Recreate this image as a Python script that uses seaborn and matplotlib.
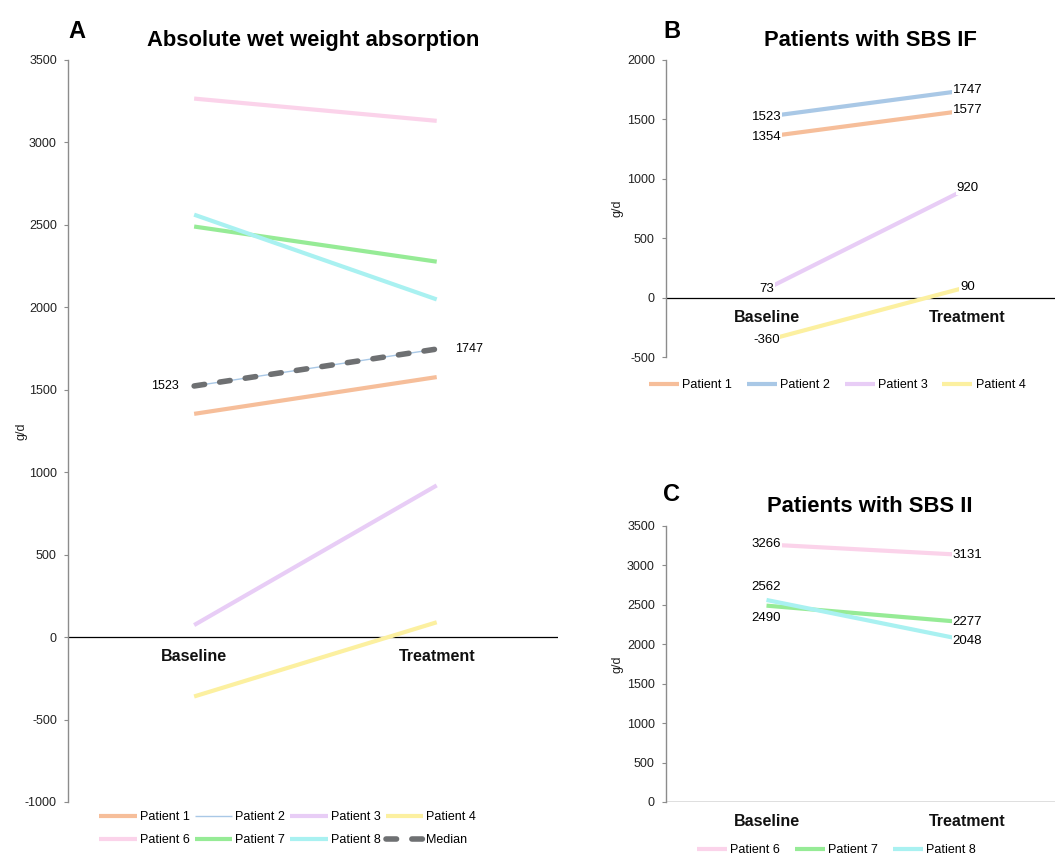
import numpy as np
import pandas as pd
import matplotlib
matplotlib.use("Agg")
import matplotlib.pyplot as plt
import seaborn as sns

sns.set_theme(style="white")
plt.rcParams['font.family'] = ['Liberation Sans', 'DejaVu Sans']
plt.rcParams['axes.unicode_minus'] = False
plt.rcParams['text.color'] = 'black'
plt.rcParams['axes.labelcolor'] = '#222222'

timepoints = ["Baseline", "Treatment"]

patients_if = ["Patient 1", "Patient 2", "Patient 3", "Patient 4"]
baseline_if = [1354, 1523, 73, -360]
treatment_if = [1577, 1747, 920, 90]

patients_ii = ["Patient 6", "Patient 7", "Patient 8"]
baseline_ii = [3266, 2490, 2562]
treatment_ii = [3131, 2277, 2048]

median_values = [1523, 1747]

colors = {
    "Patient 1": "#F6BE9A",
    "Patient 2": "#A9C8E6",
    "Patient 3": "#E8CDF6",
    "Patient 4": "#FCF0A0",
    "Patient 6": "#FBD3EA",
    "Patient 7": "#96EB96",
    "Patient 8": "#A9F1F1",
    "Median": "#6E7072",
}


def long_frame(names, base, treat):
    rows = []
    for n, b, t in zip(names, base, treat):
        rows.append({"patient": n, "time": timepoints[0], "value": b})
        rows.append({"patient": n, "time": timepoints[1], "value": t})
    return pd.DataFrame(rows)


df_if = long_frame(patients_if, baseline_if, treatment_if)
df_ii = long_frame(patients_ii, baseline_ii, treatment_ii)
df_med = pd.DataFrame({"patient": "Median", "time": timepoints, "value": median_values})
df_all = pd.concat([df_if, df_ii], ignore_index=True)

fig = plt.figure(figsize=(10.55, 8.57), dpi=100)
W, H = 1055, 857


def axes_px(left, top, right, bottom):
    return fig.add_axes([left / W, 1 - bottom / H, (right - left) / W, (bottom - top) / H])


axA = axes_px(68, 60, 558, 802)
axB = axes_px(666, 60, 1068, 357)
axC = axes_px(666, 526, 1068, 802)


def style_axes(ax, ylim, step, xlim, label_x):
    ax.set_xlim(*xlim)
    ax.set_ylim(*ylim)
    ax.set_yticks(np.arange(ylim[0], ylim[1] + 1, step))
    ax.set_xticks([])
    for s in ["top", "right", "bottom"]:
        ax.spines[s].set_visible(False)
    ax.spines["left"].set_color("#8C8C8C")
    ax.spines["left"].set_linewidth(1.0)
    ax.tick_params(axis="y", which="both", left=True, length=3, width=0.8,
                   color="#8C8C8C", labelsize=9, pad=5, labelcolor="#222222")
    ax.axhline(0, color="black", lw=0.9, zorder=1)
    ax.set_xlabel("")
    ax.set_ylabel("g/d", fontsize=9)
    ax.yaxis.set_label_coords(label_x, 0.5)
    ax.set_facecolor("none")


def category_labels(ax, offset):
    for i, t in enumerate(timepoints):
        ax.annotate(t, xy=(i, 0), xytext=(0, offset), textcoords="offset points",
                    ha="center", va="center", fontsize=11.5, fontweight="bold",
                    color="#111111")


def draw_lines(ax, df, order, widths):
    for name in order:
        sub = df[df["patient"] == name]
        sns.lineplot(data=sub, x="time", y="value", ax=ax, color=colors[name],
                     lw=widths.get(name, 3.0), label=name, sort=False,
                     solid_capstyle="butt", zorder=2)


label_box = dict(boxstyle="square,pad=0.05", fc="white", ec="none")


def value_label(ax, x, y, dy=0):
    ax.annotate(f"{y}", xy=(x, y), xytext=(0, dy), textcoords="offset points",
                ha="center", va="center", fontsize=9.5, zorder=4, bbox=label_box)


# Panel A: all patients with the median
order_A = ["Patient 1", "Patient 2", "Patient 3", "Patient 4",
           "Patient 6", "Patient 7", "Patient 8"]
draw_lines(axA, df_all, order_A, {"Patient 2": 1.0})
sns.lineplot(data=df_med, x="time", y="value", ax=axA, color=colors["Median"],
             lw=4.0, label="Median", sort=False, zorder=3,
             linestyle=(0, (1.9, 2.75)), dash_capstyle="round")
style_axes(axA, (-1000, 3500), 500, (-0.52, 1.5), (27 - 68) / 490)
category_labels(axA, -14)
axA.annotate(f"{median_values[0]}", xy=(0, median_values[0]), xytext=(-11, 0),
             textcoords="offset points", ha="right", va="center", fontsize=9)
axA.annotate(f"{median_values[1]}", xy=(1, median_values[1]), xytext=(13, 0),
             textcoords="offset points", ha="left", va="center", fontsize=9)
axA.set_title("Absolute wet weight absorption", fontsize=15.8, fontweight="bold", pad=10)
h, l = axA.get_legend_handles_labels()
idx = [0, 4, 1, 5, 2, 6, 3, 7]
axA.legend([h[i] for i in idx], [l[i] for i in idx], loc="upper left",
           bbox_to_anchor=(88 / W, 1 - 800 / H), bbox_transform=fig.transFigure,
           ncol=4, frameon=False, fontsize=9, handlelength=3.0, handletextpad=0.25,
           columnspacing=0.4, labelspacing=0.85)

# Panel B: SBS IF
draw_lines(axB, df_if, patients_if, {})
style_axes(axB, (-500, 2000), 500, (-0.5, 1.5), (624 - 666) / 402)
category_labels(axB, -14)
for b, t in zip(baseline_if, treatment_if):
    value_label(axB, 0, b)
    value_label(axB, 1, t)
axB.set_title("Patients with SBS IF", fontsize=15.8, fontweight="bold", pad=10)
axB.legend(loc="upper center", bbox_to_anchor=(837 / W, 1 - 368 / H),
           bbox_transform=fig.transFigure, ncol=4, frameon=False, fontsize=9,
           handlelength=2.4, handletextpad=0.25, columnspacing=1.2)

# Panel C: SBS II
draw_lines(axC, df_ii, patients_ii, {})
style_axes(axC, (0, 3500), 500, (-0.5, 1.5), (624 - 666) / 402)
category_labels(axC, -14)
offsets_base = {"Patient 6": 0, "Patient 7": -9, "Patient 8": 9}
for n, b, t in zip(patients_ii, baseline_ii, treatment_ii):
    value_label(axC, 0, b, offsets_base[n])
    value_label(axC, 1, t)
axC.set_title("Patients with SBS II", fontsize=15.8, fontweight="bold", pad=10)
axC.legend(loc="upper center", bbox_to_anchor=(836 / W, 1 - 833 / H),
           bbox_transform=fig.transFigure, ncol=3, frameon=False, fontsize=9,
           handlelength=2.4, handletextpad=0.25, columnspacing=1.2)

# Titles of B and C sit centred over the visible part of the panel
for ax in (axB, axC):
    ax.title.set_x((870 - 666) / 402)

# Panel letters
fig.text(77 / W, 1 - 32 / H, "A", fontsize=17, fontweight="bold", ha="center", va="center")
fig.text(672 / W, 1 - 32 / H, "B", fontsize=17, fontweight="bold", ha="center", va="center")
fig.text(672 / W, 1 - 494 / H, "C", fontsize=17, fontweight="bold", ha="center", va="center")

fig.savefig("out.png", dpi=100, facecolor="white")
